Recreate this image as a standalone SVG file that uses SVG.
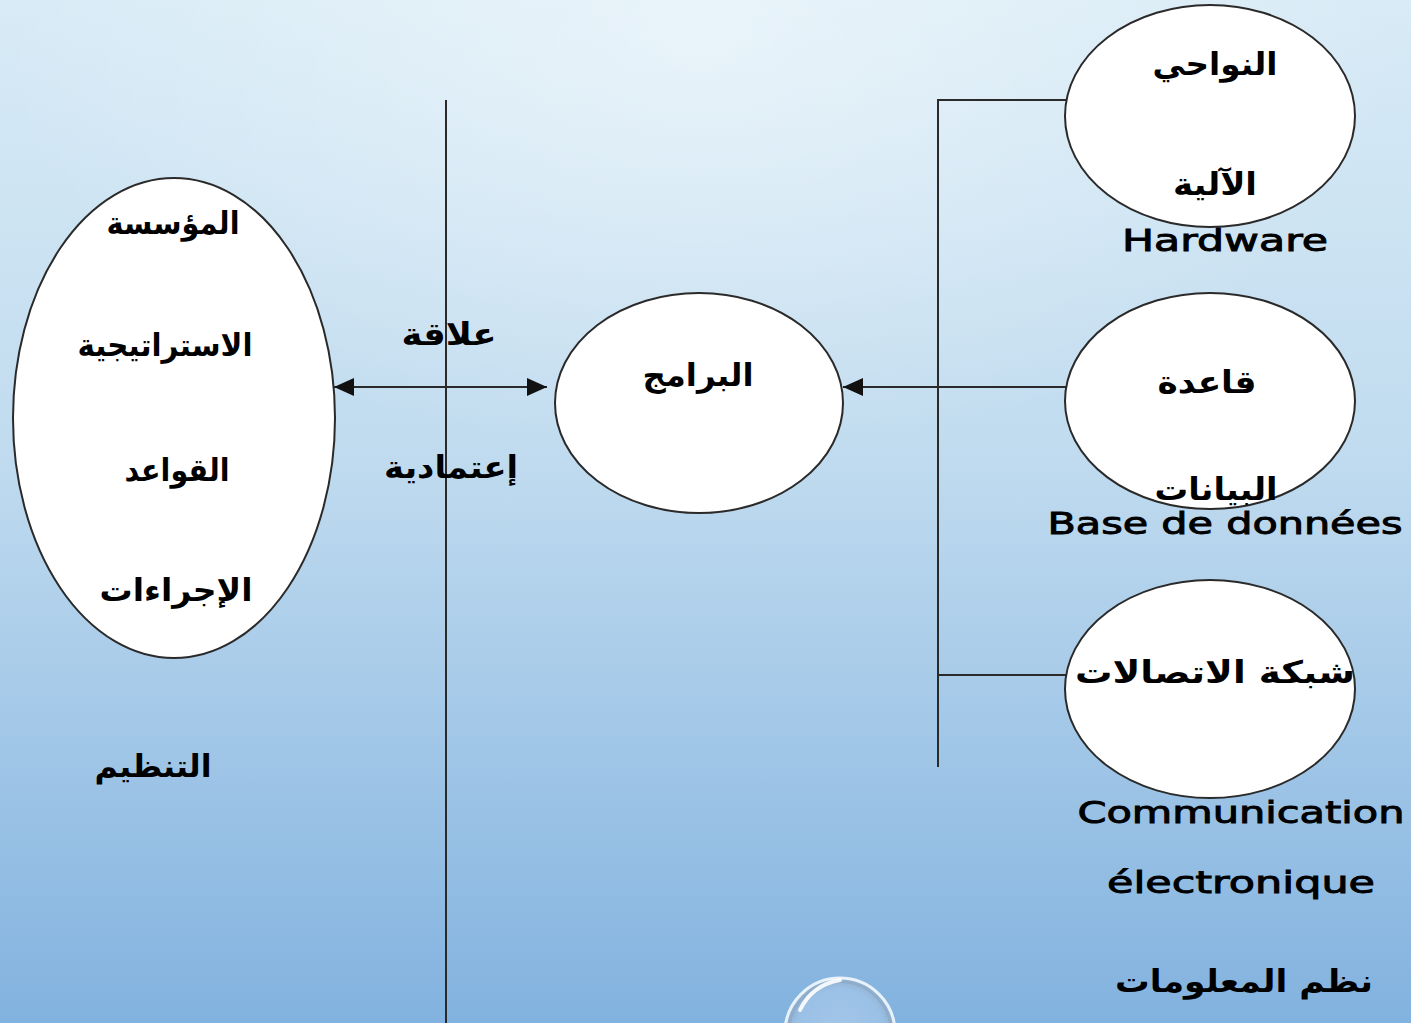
<svg xmlns="http://www.w3.org/2000/svg" width="1411" height="1023" viewBox="0 0 1411 1023">
  <defs>
    <linearGradient id="bg" x1="0" y1="0" x2="0" y2="1">
      <stop offset="0" stop-color="#d8ebf6"/>
      <stop offset="0.45" stop-color="#c0dbef"/>
      <stop offset="1" stop-color="#82b2df"/>
    </linearGradient>
    <radialGradient id="glow" cx="700" cy="40" r="700" gradientUnits="userSpaceOnUse" gradientTransform="translate(700 40) scale(1 0.6) translate(-700 -40)">
      <stop offset="0" stop-color="#ffffff" stop-opacity="0.45"/>
      <stop offset="1" stop-color="#ffffff" stop-opacity="0"/>
    </radialGradient>
    <radialGradient id="bubbleFill" cx="0.5" cy="0.5" r="0.5">
      <stop offset="0" stop-color="#b9d5ef" stop-opacity="0.6"/>
      <stop offset="0.8" stop-color="#a9c9ea" stop-opacity="0.6"/>
      <stop offset="1" stop-color="#8fa9c4" stop-opacity="0.8"/>
    </radialGradient>
    <marker id="head" viewBox="0 0 20 18" refX="20" refY="9" markerWidth="20" markerHeight="18" markerUnits="userSpaceOnUse" orient="auto-start-reverse">
      <path d="M0,0 L20,9 L0,18 Z" fill="#111"/>
    </marker>
    <style>
      .node { fill: #ffffff; stroke: #2a2a2a; stroke-width: 2; }
      .wire { fill: none; stroke: #2a2a2a; stroke-width: 2; }
      .ar { font-family: "DejaVu Sans", "Noto Sans", sans-serif; font-weight: bold; font-size: 31px; fill: #000; text-anchor: middle; }
      .lat { font-family: "DejaVu Sans", "Liberation Sans", sans-serif; font-size: 30px; fill: #000; stroke: #000; stroke-width: 0.9; text-anchor: middle; }
    </style>
  </defs>

  <!-- background -->
  <rect x="0" y="0" width="1411" height="1023" fill="url(#bg)"/>
  <rect x="0" y="0" width="1411" height="1023" fill="url(#glow)"/>

  <!-- connectors -->
  <g id="connectors">
    <line class="wire" x1="446" y1="100" x2="446" y2="1023"/>
    <line class="wire" x1="334" y1="387" x2="547" y2="387" marker-start="url(#head)" marker-end="url(#head)"/>
    <line class="wire" x1="938" y1="100" x2="938" y2="767"/>
    <line class="wire" x1="937" y1="100" x2="1067" y2="100"/>
    <line class="wire" x1="937" y1="675" x2="1067" y2="675"/>
    <line class="wire" x1="1066" y1="387" x2="843" y2="387" marker-end="url(#head)"/>
  </g>

  <!-- organisation side -->
  <g id="node-organisation">
    <ellipse class="node" cx="174" cy="418" rx="161" ry="240"/>
    <text class="ar" x="173" y="234" textLength="133" lengthAdjust="spacingAndGlyphs">المؤسسة</text>
    <text class="ar" x="165" y="356" textLength="175" lengthAdjust="spacingAndGlyphs">الاستراتيجية</text>
    <text class="ar" x="177" y="481" textLength="105" lengthAdjust="spacingAndGlyphs">القواعد</text>
    <text class="ar" x="176" y="601" textLength="153" lengthAdjust="spacingAndGlyphs">الإجراءات</text>
  </g>
  <g id="label-organisation">
    <text class="ar" x="153" y="777" textLength="117" lengthAdjust="spacingAndGlyphs">التنظيم</text>
  </g>

  <!-- relation label -->
  <g id="label-relation">
    <text class="ar" x="449" y="345" textLength="95" lengthAdjust="spacingAndGlyphs">علاقة</text>
    <text class="ar" x="451" y="478" textLength="134" lengthAdjust="spacingAndGlyphs">إعتمادية</text>
  </g>

  <!-- software -->
  <g id="node-software">
    <ellipse class="node" cx="699" cy="403" rx="144" ry="110"/>
    <text class="ar" x="698" y="386" textLength="111" lengthAdjust="spacingAndGlyphs">البرامج</text>
  </g>

  <!-- hardware -->
  <g id="node-hardware">
    <ellipse class="node" cx="1210" cy="116" rx="145" ry="111"/>
    <text class="ar" x="1215" y="75" textLength="125" lengthAdjust="spacingAndGlyphs">النواحي</text>
    <text class="ar" x="1215" y="195" textLength="84" lengthAdjust="spacingAndGlyphs">الآلية</text>
    <text class="lat" x="1225" y="251" textLength="206" lengthAdjust="spacingAndGlyphs">Hardware</text>
  </g>

  <!-- database -->
  <g id="node-database">
    <ellipse class="node" cx="1210" cy="401" rx="145" ry="108"/>
    <text class="ar" x="1207" y="393" textLength="99" lengthAdjust="spacingAndGlyphs">قاعدة</text>
    <text class="ar" x="1216" y="500" textLength="123" lengthAdjust="spacingAndGlyphs">البيانات</text>
    <text class="lat" x="1225" y="534" textLength="355" lengthAdjust="spacingAndGlyphs">Base de données</text>
  </g>

  <!-- network -->
  <g id="node-network">
    <ellipse class="node" cx="1210" cy="689" rx="145" ry="109"/>
    <text class="ar" x="1215" y="683" textLength="280" lengthAdjust="spacingAndGlyphs">شبكة الاتصالات</text>
    <text class="lat" x="1241" y="823" textLength="327" lengthAdjust="spacingAndGlyphs">Communication</text>
    <text class="lat" x="1241" y="893" textLength="268" lengthAdjust="spacingAndGlyphs">électronique</text>
  </g>

  <g id="label-information-systems">
    <text class="ar" x="1244" y="992" textLength="258" lengthAdjust="spacingAndGlyphs">نظم المعلومات</text>
  </g>

  <!-- glass bubble ornament -->
  <g id="bubble">
    <circle cx="840" cy="1033" r="55" fill="url(#bubbleFill)" stroke="#e8f2fb" stroke-width="3"/>
    <circle cx="840" cy="1033" r="51" fill="none" stroke="#8aa3bd" stroke-opacity="0.5" stroke-width="2"/>
    <path d="M800,1010 Q812,985 840,980" fill="none" stroke="#ffffff" stroke-width="4" stroke-linecap="round" stroke-opacity="0.9"/>
  </g>
</svg>
